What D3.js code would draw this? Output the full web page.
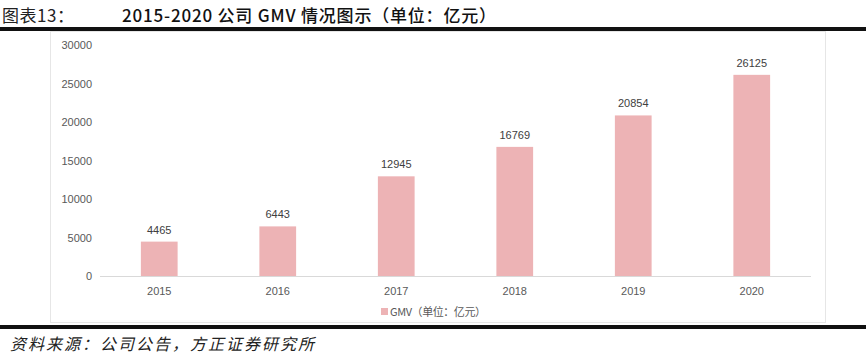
<!DOCTYPE html>
<html>
<head>
<meta charset="utf-8">
<script src="https://cdn.jsdelivr.net/npm/d3@7"></script>
<style>
body { margin: 0; background: #fff; }
svg { display: block; }
</style>
</head>
<body>
<svg width="866" height="359"></svg>
<script>
const years = ["2015", "2016", "2017", "2018", "2019", "2020"];
const gmv = [4465, 6443, 12945, 16769, 20854, 26125];
const yTicks = [0, 5000, 10000, 15000, 20000, 25000, 30000];
const titleLabel = "图表13：";
const titleText = "2015-2020 公司 GMV 情况图示（单位：亿元）";
const legendText = "GMV（单位：亿元）";
const sourceText = "资料来源：公司公告，方正证券研究所";

const svg = d3.select("svg");
const width = +svg.attr("width");
const cjk = "'Noto Sans CJK SC', sans-serif";
const latin = "'Liberation Sans', Arial, sans-serif";
const barColor = "#edb3b5";

// header
svg.append("text")
	.attr("x", 2).attr("y", 22)
	.attr("font-family", cjk).attr("font-size", 17)
	.attr("textLength", 72).attr("lengthAdjust", "spacing")
	.attr("fill", "#222")
	.text(titleLabel);
svg.append("text")
	.attr("x", 122).attr("y", 22)
	.attr("font-family", cjk).attr("font-size", 17).attr("font-weight", 500)
	.attr("textLength", 374).attr("lengthAdjust", "spacing")
	.attr("fill", "#111")
	.text(titleText);
svg.append("rect")
	.attr("x", 0).attr("y", 27).attr("width", width).attr("height", 4)
	.attr("fill", "#111");

// chart frame
svg.append("rect")
	.attr("x", 50.5).attr("y", 31.5).attr("width", 775).attr("height", 291)
	.attr("fill", "none").attr("stroke", "#e6e6e6");

const x = d3.scaleBand().domain(years).range([100, 811]).paddingInner(0.69).paddingOuter(0.345);
const y = d3.scaleLinear().domain([0, 30000]).range([276, 45]);

const yAxis = svg.append("g")
	.attr("transform", "translate(92,0)")
	.call(d3.axisLeft(y).tickValues(yTicks).tickFormat(d3.format("d")).tickSize(0).tickPadding(0));
yAxis.select(".domain").remove();
yAxis.selectAll("text")
	.attr("font-family", latin).attr("font-size", 11).attr("fill", "#595959");

svg.append("g")
	.selectAll("rect")
	.data(gmv)
	.join("rect")
	.attr("x", (d, i) => x(years[i]))
	.attr("y", d => y(d))
	.attr("width", x.bandwidth())
	.attr("height", d => y(0) - y(d))
	.attr("fill", barColor);

svg.append("g")
	.selectAll("text")
	.data(gmv)
	.join("text")
	.attr("x", (d, i) => x(years[i]) + x.bandwidth() / 2)
	.attr("y", d => y(d) - 8)
	.attr("text-anchor", "middle")
	.attr("font-family", latin).attr("font-size", 11).attr("fill", "#404040")
	.text(d => d);

const xAxis = svg.append("g")
	.attr("transform", `translate(0,${y(0)})`)
	.call(d3.axisBottom(x).tickSize(0).tickPadding(11));
xAxis.select(".domain").attr("stroke", "#d9d9d9").attr("d", "M100,0.5H811");
xAxis.selectAll("text")
	.attr("font-family", latin).attr("font-size", 11).attr("fill", "#595959");

// legend
svg.append("rect")
	.attr("x", 381).attr("y", 308).attr("width", 7).attr("height", 7)
	.attr("fill", barColor);
svg.append("text")
	.attr("x", 390).attr("y", 315.5)
	.attr("font-family", cjk).attr("font-size", 11).attr("fill", "#595959")
	.attr("textLength", 96).attr("lengthAdjust", "spacing")
	.text(legendText);

// footer
svg.append("rect")
	.attr("x", 0).attr("y", 325).attr("width", width).attr("height", 4)
	.attr("fill", "#111");
svg.append("text")
	.attr("x", 10).attr("y", 350)
	.attr("font-family", cjk).attr("font-size", 16).attr("font-style", "italic")
	.attr("textLength", 304).attr("lengthAdjust", "spacing")
	.attr("fill", "#222")
	.text(sourceText);
</script>
</body>
</html>
